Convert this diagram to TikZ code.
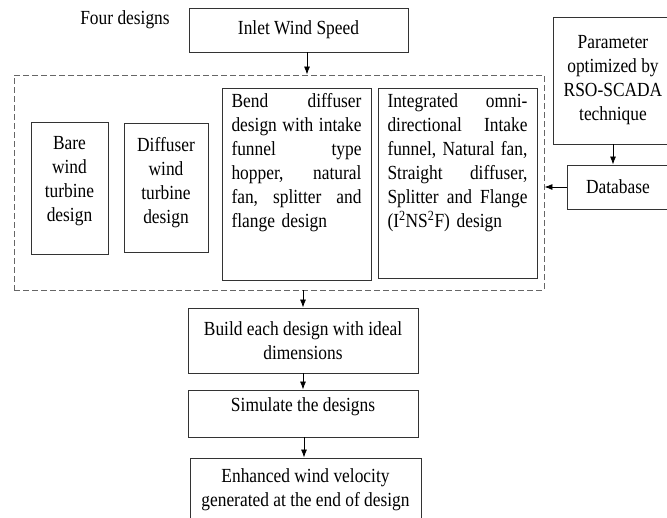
\documentclass[tikz,border=0pt]{standalone}
\usepackage{fontspec}
\setmainfont{Liberation Serif}[FakeStretch=0.87]
\usetikzlibrary{arrows.meta}
\begin{document}
\begin{tikzpicture}[x=1pt,y=-1pt,
    every node/.style={font=\fontsize{20}{24}\selectfont,inner sep=0pt},
    blk/.style={draw=black!80,line width=0.9pt,align=center},
    grp/.style={draw=black!60,line width=0.9pt,dash pattern=on 6pt off 3pt},
    txt/.style={align=center},
    jtxt/.style={align=left,text width=#1},
    arr/.style={-{Latex[length=8pt,width=6pt]},line width=0.8pt}]
      \useasboundingbox (0,0) rectangle (667,517);
      \node[txt] (four) at (125,20) {Four designs};
      \node[blk,minimum width=219pt,minimum height=44pt] (inlet) at (298.5,30) {Inlet Wind Speed};
      \node[grp,minimum width=530pt,minimum height=215pt] (designs) at (279,182.5) {};
      % the four designs
      \node[blk,minimum width=77pt,minimum height=132pt] (bare) at (69.5,188) {};
      \node[txt] (baretxt) at (69.5,181) {Bare\\wind\\turbine\\design};
      \node[blk,minimum width=84pt,minimum height=129pt] (diff) at (166,187.5) {};
      \node[txt] (difftxt) at (166,183) {Diffuser\\wind\\turbine\\design};
      \node[blk,minimum width=149pt,minimum height=192pt] (bend) at (296.5,184) {};
      \node[jtxt=130pt] (bendtxt) at (296.5,163) {Bend\hfill diffuser\\
        design\hfill with\hfill intake\\ funnel\hfill type\\ hopper,\hfill natural\\
        fan,\hfill splitter\hfill and\\ flange design};
      \node[blk,minimum width=159pt,minimum height=190pt] (integ) at (457.5,183) {};
      \node[jtxt=140pt] (integtxt) at (457.5,163) {Integrated\hfill omni-\\
        directional\hfill Intake\\ funnel,\hfill Natural\hfill fan,\\ Straight\hfill diffuser,\\
        Splitter\hfill and\hfill Flange\\ (I\textsuperscript{2}NS\textsuperscript{2}F) design};
      % optimisation side
      \node[blk,minimum width=120pt,minimum height=127pt] (param) at (613,80.5) {Parameter\\optimized by\\RSO-SCADA\\technique};
      \node[blk,minimum width=102pt,minimum height=44pt] (db) at (618,187) {Database};
      % output chain
      \node[blk,minimum width=230pt,minimum height=65pt] (build) at (303,340.5) {Build each design with ideal\\dimensions};
      \node[blk,minimum width=230pt,minimum height=47pt] (sim) at (303,413.5) {};
      \node[txt] (simtxt) at (303,407) {Simulate the designs};
      \node[blk,minimum width=231pt,minimum height=70pt] (enh) at (305.5,493) {};
      \node[txt] (enhtxt) at (305.5,490) {Enhanced wind velocity\\generated at the end of design};
      \draw[arr] ([xshift=8.5pt]inlet.south) -- ([xshift=8.5pt]inlet.south |- designs.north);
      \draw[arr] (param.south) -- (param.south |- db.north);
      \draw[arr] (db.west) -- (db.west -| designs.east);
      \draw[arr] (designs.south -| build) -- (build.north);
      \draw[arr] (build.south) -- (sim.north);
      \draw[arr] ([xshift=1pt]sim.south) -- ([xshift=1pt]sim.south |- enh.north);
    \end{tikzpicture}
\end{document}
